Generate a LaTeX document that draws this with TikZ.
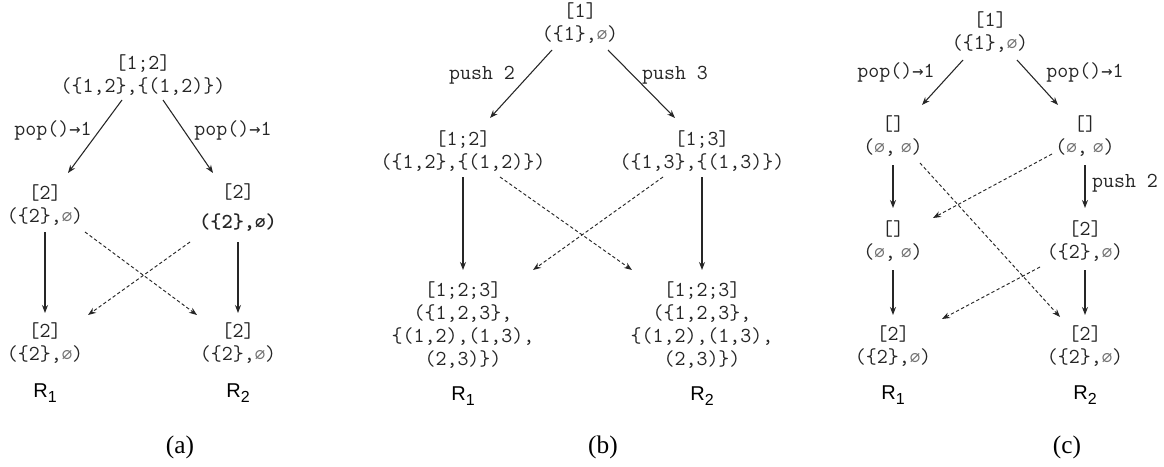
\documentclass[tikz,border=0pt]{standalone}
\usepackage{fontspec}
\setmainfont{Liberation Serif}
\setsansfont{Liberation Sans}
\newfontfamily\symfnt{DejaVu Sans Mono}
\usetikzlibrary{arrows.meta,calc}
\newcommand\eset{{\symfnt\fontsize{13}{13}\selectfont\color{black!55}∅}}
\newcommand\arr{{\symfnt\fontsize{14}{14}\selectfont →}}
\newcommand\Rsub[1]{R\raisebox{-4pt}{\fontsize{12}{12}\selectfont #1}}
\tikzset{
 st/.style={font=\ttfamily\fontsize{16}{17.25}\selectfont, text=black!85, align=center, inner sep=0pt},
 lab/.style={font=\ttfamily\fontsize{16}{17}\selectfont, text=black!85, inner sep=0pt},
 rl/.style={font=\sffamily\fontsize{15}{15}\selectfont, inner sep=0pt},
 captxt/.style={font=\fontsize{19}{19}\selectfont, inner sep=0pt},
 tr/.style={draw=black!85, line width=0.8pt, -{Stealth[length=6pt,width=4.5pt]}},
 dtr/.style={tr, line width=0.7pt, dash pattern=on 2.5pt off 1.8pt},
}
\begin{document}
\begin{tikzpicture}[x=0.75pt,y=-0.75pt]
\useasboundingbox[fill=white] (0,0) rectangle (1164,467);
% ---------- (a)
\node[st] (a0) at (143,75) {[1;2]\\(\{1,2\},\{(1,2)\})};
\node[st] (a1) at (45,205) {[2]\\(\{2\},\eset)};
\node[st] (a2) at (238,207.5) {[2]\\[5pt]\textbf{(\{2\},{\symfnt\fontsize{13}{13}\selectfont\bfseries ∅})}};
\node[st] (a3) at (45,343) {[2]\\(\{2\},\eset)};
\node[st] (a4) at (238,343) {[2]\\(\{2\},\eset)};
\node[rl] (aR1) at (45,393) {\Rsub{1}};
\node[rl] (aR2) at (238,393) {\Rsub{2}};
\node[captxt] (acap) at (180,447) {(a)};
\draw[tr] ($(a0)+(-21,25)$) -- ($(a1)+(23,-32)$);
\draw[tr] ($(a0)+(20,25)$) -- ($(a2)+(-25,-34.5)$);
\node[lab] (al1) at (53,130) {pop()\arr1};
\node[lab] (al2) at (233,130) {pop()\arr1};
\draw[tr] ($(a1)+(0,27)$) -- ($(a3)+(0,-30)$);
\draw[tr] ($(a2)+(0,34.5)$) -- ($(a4)+(0,-30)$);
\draw[dtr] ($(a1)+(40,27)$) -- ($(a4)+(-41,-28)$);
\draw[dtr] ($(a2)+(-48,34.5)$) -- ($(a3)+(43,-28)$);
% ---------- (b)
\node[st] (b0) at (580,23) {[1]\\(\{1\},\eset)};
\node[st] (b1) at (463,151.5) {[1;2]\\(\{1,2\},\{(1,2)\})};
\node[st] (b2) at (702,151.5) {[1;3]\\(\{1,3\},\{(1,3)\})};
\node[st] (b3) at (463,325) {[1;2;3]\\(\{1,2,3\},\\\{(1,2),(1,3),\\(2,3)\})};
\node[st] (b4) at (702,325) {[1;2;3]\\(\{1,2,3\},\\\{(1,2),(1,3),\\(2,3)\})};
\node[rl] (bR1) at (463,396) {\Rsub{1}};
\node[rl] (bR2) at (702,396) {\Rsub{2}};
\node[captxt] (bcap) at (603,447) {(b)};
\draw[tr] ($(b0)+(-28,27)$) -- ($(b1)+(27,-33.5)$);
\draw[tr] ($(b0)+(28,27)$) -- ($(b2)+(-27,-33.5)$);
\node[lab] (bl1) at (482,75) {push 2};
\node[lab] (bl2) at (675,75) {push 3};
\draw[tr] ($(b1)+(0,25.5)$) -- ($(b3)+(0,-55)$);
\draw[tr] ($(b2)+(0,25.5)$) -- ($(b4)+(0,-55)$);
\draw[dtr] ($(b1)+(37,25.5)$) -- ($(b4)+(-70,-55)$);
\draw[dtr] ($(b2)+(-39,25.5)$) -- ($(b3)+(70,-55)$);
% ---------- (c)
\node[st] (c0) at (990,32.5) {[1]\\(\{1\},\eset)};
\node[st] (c1) at (893,136.5) {[]\\(\eset,\kern4pt\eset)};
\node[st] (c2) at (1085,136.5) {[]\\(\eset,\kern4pt\eset)};
\node[st] (c3) at (893,241.5) {[]\\(\eset,\kern4pt\eset)};
\node[st] (c4) at (1085,241.5) {[2]\\(\{2\},\eset)};
\node[st] (c5) at (893,346.5) {[2]\\(\{2\},\eset)};
\node[st] (c6) at (1085,346.5) {[2]\\(\{2\},\eset)};
\node[rl] (cR1) at (893,395) {\Rsub{1}};
\node[rl] (cR2) at (1085,395) {\Rsub{2}};
\node[captxt] (ccap) at (1067,447) {(c)};
\draw[tr] ($(c0)+(-27,27.5)$) -- ($(c1)+(29,-31.5)$);
\draw[tr] ($(c0)+(27,27.5)$) -- ($(c2)+(-27,-31.5)$);
\node[lab] (cl1) at (896,72) {pop()\arr1};
\node[lab] (cl2) at (1085,72) {pop()\arr1};
\draw[tr] ($(c1)+(0,28.5)$) -- ($(c3)+(0,-33.5)$);
\draw[tr] ($(c2)+(0,28.5)$) -- ($(c4)+(0,-33.5)$);
\node[lab] (cl3) at (1125,183) {push 2};
\draw[dtr] ($(c2)+(-33,17.5)$) -- ($(c3)+(40,-23.5)$);
\draw[dtr] ($(c1)+(27,26.5)$) -- ($(c6)+(-25,-29.5)$);
\draw[tr] ($(c3)+(0,28.5)$) -- ($(c5)+(0,-31.5)$);
\draw[tr] ($(c4)+(0,28.5)$) -- ($(c6)+(0,-31.5)$);
\draw[dtr] ($(c4)+(-45,25.5)$) -- ($(c5)+(49,-27.5)$);
\end{tikzpicture}
\end{document}
